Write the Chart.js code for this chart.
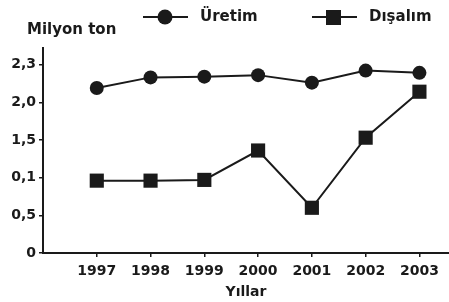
<html lang="tr">

<head>
  <meta charset="UTF-8">
  <script src="https://cdn.jsdelivr.net/npm/chart.js@4.4.1/dist/chart.umd.min.js"></script>
  <title>Üretim ve Dışalım</title>
  <style>
    body { margin: 0; background: #fff; }
    #wrap { width: 449px; height: 302px; }
  </style>
</head>

<body>
  <div id="wrap"><canvas id="myChart" width="449" height="302"></canvas></div>
  <script>
    // values are on the printed axis positions (0 .. 2.5 in steps of 0.5)
    const years = [1997, 1998, 1999, 2000, 2001, 2002, 2003];
    const uretim = [2.19, 2.33, 2.34, 2.36, 2.26, 2.42, 2.39];
    const disalim = [0.96, 0.96, 0.97, 1.36, 0.60, 1.53, 2.14];
    const yTickValues = [0, 0.5, 1, 1.5, 2, 2.5];
    const yTickLabels = ['0', '0,5', '0,1', '1,5', '2,0', '2,3'];

    const FONT = 'DejaVu Sans';
    const INK = '#1a1a1a';

    const legendPlugin = {
      id: 'legendPlugin',
      afterDraw(chart) {
        const ctx = chart.ctx;
        ctx.save();
        ctx.strokeStyle = INK;
        ctx.fillStyle = INK;
        ctx.lineWidth = 2;
        // Üretim
        ctx.beginPath();
        ctx.moveTo(143, 17);
        ctx.lineTo(188, 17);
        ctx.stroke();
        ctx.beginPath();
        ctx.arc(165, 17, 7.5, 0, Math.PI * 2);
        ctx.fill();
        // Dışalım
        ctx.beginPath();
        ctx.moveTo(312, 17);
        ctx.lineTo(357, 17);
        ctx.stroke();
        ctx.fillRect(326, 10, 15, 15);

        ctx.font = 'bold 15px "' + FONT + '"';
        ctx.textBaseline = 'middle';
        ctx.textAlign = 'left';
        ctx.fillText('Üretim', 200, 17);
        ctx.fillText('Dışalım', 369, 17);
        ctx.fillText('Milyon ton', 27, 30);
        ctx.restore();
      }
    };

    const ctx = document.getElementById('myChart').getContext('2d');
    const myChart = new Chart(ctx, {
      type: 'line',
      data: {
        datasets: [
          {
            label: 'Üretim',
            data: years.map((y, i) => ({ x: y, y: uretim[i] })),
            borderColor: INK,
            backgroundColor: INK,
            borderWidth: 2,
            pointStyle: 'circle',
            pointRadius: 7,
            pointBorderWidth: 0,
            tension: 0,
            clip: false
          },
          {
            label: 'Dışalım',
            data: years.map((y, i) => ({ x: y, y: disalim[i] })),
            borderColor: INK,
            backgroundColor: INK,
            borderWidth: 2,
            pointStyle: 'rect',
            pointRadius: 10,
            pointBorderWidth: 0,
            tension: 0,
            clip: false
          }
        ]
      },
      options: {
        responsive: false,
        animation: false,
        layout: { autoPadding: false, padding: { top: 48, right: 0, left: 0, bottom: 0 } },
        plugins: {
          legend: { display: false },
          tooltip: { enabled: false }
        },
        scales: {
          x: {
            type: 'linear',
            min: 1996,
            max: 2003.55,
            afterFit(scale) {
              scale.height = 49;
            },
            afterBuildTicks(scale) {
              scale.ticks = years.map(v => ({ value: v }));
            },
            ticks: {
              autoSkip: false,
              maxRotation: 0,
              padding: 6,
              color: INK,
              font: { family: FONT, size: 14, weight: 'bold' },
              callback: v => String(v)
            },
            grid: { drawOnChartArea: false, drawTicks: true, tickLength: 4, color: INK, lineWidth: 1.5 },
            border: { color: INK, width: 2 },
            title: {
              display: true,
              text: 'Yıllar',
              color: INK,
              padding: { top: 0, bottom: 1 },
              font: { family: FONT, size: 14, weight: 'bold' }
            }
          },
          y: {
            min: 0,
            max: 2.72,
            afterFit(scale) { scale.width = 43; },
            afterBuildTicks(scale) {
              scale.ticks = yTickValues.map(v => ({ value: v }));
            },
            ticks: {
              autoSkip: false,
              padding: 3,
              color: INK,
              font: { family: FONT, size: 14, weight: 'bold' },
              callback: (v) => yTickLabels[yTickValues.indexOf(v)]
            },
            grid: { drawOnChartArea: false, drawTicks: true, tickLength: 4, color: INK, lineWidth: 1.5 },
            border: { color: INK, width: 2 }
          }
        }
      },
      plugins: [legendPlugin]
    });
  </script>
</body>

</html>
